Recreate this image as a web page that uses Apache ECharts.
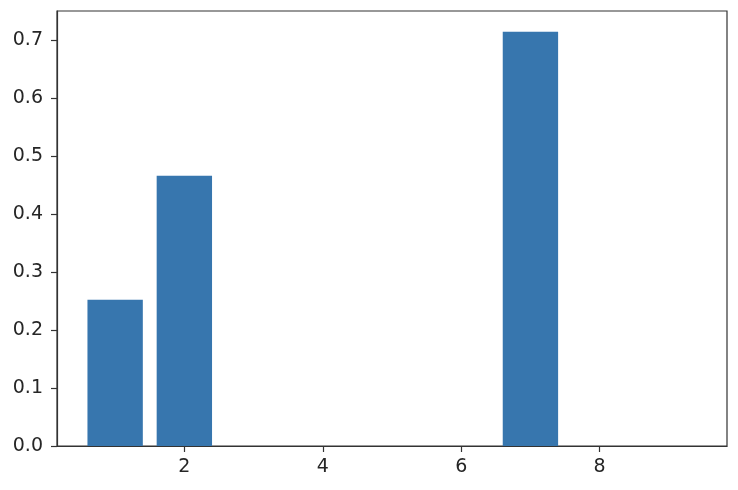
<!DOCTYPE html>
<html><head><meta charset="utf-8">
<script src="https://cdn.jsdelivr.net/npm/echarts@6/dist/echarts.min.js"></script>
<style>html,body{margin:0;padding:0;background:#fff}#c{width:738px;height:490px}</style>
</head><body><div id="c"></div>
<script>
const xValues = [1, 2, 3, 4, 5, 6, 7, 8, 9];
const barValues = [0.2523, 0.4666, 0, 0, 0, 0, 0.7152, 0, 0];
const xTicks = [2, 4, 6, 8];
const yTicks = [0, 0.1, 0.2, 0.3, 0.4, 0.5, 0.6, 0.7];
const barRelWidth = 0.8;

const chart = echarts.init(document.getElementById('c'), null, {renderer: 'canvas'});
const xMin = 1 - barRelWidth / 2 - 0.044 * 10;
const xMax = 9 + barRelWidth / 2 + 0.044 * 10;
const yMax = Math.max(...barValues) * 1.05;
const labelStyle = {color: '#262626', fontFamily: 'DejaVu Sans', fontSize: 19};
const option = {
  animation: false,
  grid: {left: 57, right: 11, top: 11, bottom: 44, show: true, borderColor: '#333', borderWidth: 1.2, backgroundColor: 'transparent'},
  xAxis: {
    type: 'value', min: xMin, max: xMax,
    axisLine: {show: true, onZero: false, lineStyle: {color: '#333', width: 1.2}},
    axisTick: {show: true, length: 6, customValues: xTicks, lineStyle: {color: '#333', width: 1.2}},
    axisLabel: Object.assign({customValues: xTicks, margin: 12}, labelStyle),
    splitLine: {show: false}
  },
  yAxis: {
    type: 'value', min: 0, max: yMax,
    axisLine: {show: true, lineStyle: {color: '#333', width: 1.2}},
    axisTick: {show: true, length: 6, customValues: yTicks, lineStyle: {color: '#333', width: 1.2}},
    axisLabel: Object.assign({customValues: yTicks, margin: 14, formatter: v => v.toFixed(1)}, labelStyle),
    splitLine: {show: false}
  },
  series: [{
    type: 'bar',
    data: xValues.map((x, i) => [x, barValues[i]]),
    barWidth: 55,
    itemStyle: {color: '#3776ae'}
  }]
};
chart.setOption(option);
const w = chart.convertToPixel({xAxisIndex: 0}, 1 + barRelWidth) - chart.convertToPixel({xAxisIndex: 0}, 1);
chart.setOption({series: [{barWidth: w}]});
</script></body></html>
